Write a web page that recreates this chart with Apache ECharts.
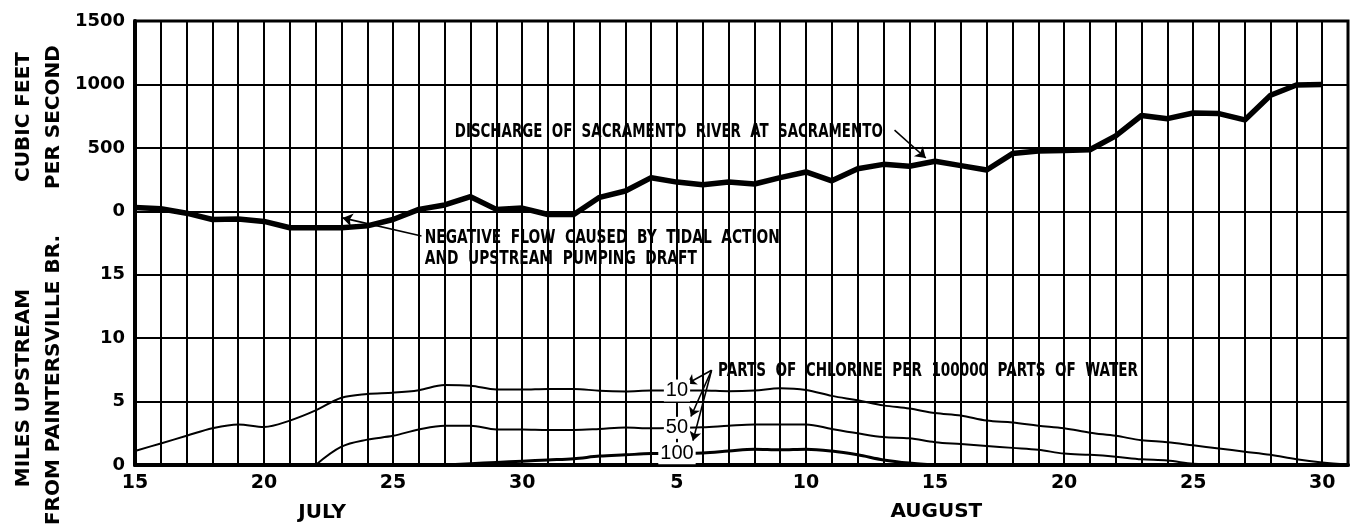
<!DOCTYPE html>
<html>
<head>
<meta charset="utf-8">
<script src="https://cdn.jsdelivr.net/npm/echarts@6/dist/echarts.min.js"></script>
<style>
  html, body { margin: 0; padding: 0; background: #fff; }
  #chart { width: 1356px; height: 529px; }
</style>
</head>
<body>
<div id="chart"></div>
<script>
// days counted from July 15 (0) to August 31 (47)
const tickDays = [0, 5, 10, 15, 21, 26, 31, 36, 41, 46]
const tickLabels = ['15', '20', '25', '30', '5', '10', '15', '20', '25', '30']
const monthNames = ['JULY', 'AUGUST']

// discharge, cubic feet per second (day 0 .. 46)
const discharge = [30, 20, -15, -65, -60, -80, -130, -130, -130, -115, -65, 15, 50,
  115, 15, 25, -25, -25, 110, 160, 265, 230, 210, 230, 215, 265, 310, 240, 335, 370,
  355, 395, 360, 325, 455, 475, 480, 485, 595, 755, 730, 775, 770, 720, 915, 995, 1000]

// miles upstream of the chlorine lines (day 0 .. 47)
const chlor10 = [1.1, 1.7, 2.3, 2.9, 3.2, 3.0, 3.5, 4.3, 5.3, 5.6, 5.7, 5.9, 6.3,
  6.25, 5.95, 5.95, 6.0, 6.0, 5.85, 5.8, 5.87, 5.87, 5.87, 5.82, 5.87, 6.05, 5.92, 5.45, 5.1, 4.7,
  4.45, 4.1, 3.9, 3.5, 3.35, 3.1, 2.9, 2.55, 2.3, 1.95, 1.8, 1.55, 1.3, 1.05, 0.8, 0.45, 0.2, 0.05]
const chlor50 = [null, null, null, null, null, null, null, 0, 1.45, 2.0, 2.3, 2.8, 3.1,
  3.1, 2.8, 2.8, 2.76, 2.76, 2.84, 2.95, 2.9, 2.93, 2.97, 3.1, 3.2, 3.2, 3.2, 2.84, 2.5, 2.2,
  2.1, 1.8, 1.65, 1.5, 1.35, 1.2, 0.9, 0.8, 0.65, 0.45, 0.35, 0.1, 0, null, null, null, null, null]
const chlor100 = [null, null, null, null, null, null, null, null, null, null, null, null, 0,
  0.1, 0.2, 0.3, 0.4, 0.5, 0.7, 0.8, 0.9, 0.92, 0.95, 1.1, 1.25, 1.2, 1.25, 1.1, 0.8, 0.4,
  0.15, 0, null, null, null, null, null, null, null, null, null, null, null, null, null, null, null, null]
const chlorNames = ['10', '50', '100']

const notes = {
  discharge: 'DISCHARGE  OF  SACRAMENTO  RIVER  AT  SACRAMENTO',
  negative1: 'NEGATIVE  FLOW  CAUSED  BY  TIDAL  ACTION',
  negative2: 'AND  UPSTREAM  PUMPING  DRAFT',
  chlorine: 'PARTS  OF  CHLORINE  PER  100000  PARTS  OF  WATER',
}

const labelDay = 21
const axisFont = "'DejaVu Sans', sans-serif"
const noteFont = "bold 19px 'DejaVu Sans', sans-serif"

const toPairs = arr => arr.map((v, i) => [i, v]).filter(p => p[1] !== null)

const chart = echarts.init(document.getElementById('chart'))

const numLabel = (name, arr) => ({
  symbol: 'rect',
  symbolSize: 0,
  silent: true,
  data: [{
    coord: [labelDay, arr[labelDay]],
    label: {
      show: true,
      position: 'inside',
      formatter: name,
      color: '#000',
      fontFamily: "'Liberation Sans', sans-serif",
      fontSize: 20,
      backgroundColor: '#fff',
      padding: [1, 2],
    },
  }],
})

const chlorLine = (name, arr, width, extra) => Object.assign({
  name: name,
  type: 'line',
  yAxisIndex: 1,
  data: toPairs(arr),
  symbol: 'none',
  smooth: 0.35,
  lineStyle: { color: '#000', width: width },
  markPoint: numLabel(name, arr),
}, extra || {})

const arrow = (from, to) => [{ coord: from }, { coord: to }]

chart.setOption({
  animation: false,
  backgroundColor: '#fff',
  grid: {
    left: 135,
    right: 8,
    top: 21,
    bottom: 64,
    show: true,
    borderColor: '#000',
    borderWidth: 3,
  },
  xAxis: {
    type: 'value',
    min: 0,
    max: 47,
    interval: 1,
    axisLine: { onZero: false, lineStyle: { color: '#000', width: 4 } },
    axisTick: { show: false },
    splitLine: { show: true, lineStyle: { color: '#000', width: 2 } },
    axisLabel: {
      margin: 9,
      color: '#000',
      fontFamily: axisFont,
      fontWeight: 'bold',
      fontSize: 19,
      formatter: v => {
        const k = tickDays.indexOf(v)
        return k < 0 ? '' : tickLabels[k]
      },
    },
  },
  yAxis: [
    {
      type: 'value',
      min: -2000,
      max: 1500,
      interval: 500,
      axisLine: { show: true, onZero: false, lineStyle: { color: '#000', width: 4 } },
      axisTick: { show: false },
      splitLine: { show: true, lineStyle: { color: '#000', width: 2 } },
      axisLabel: {
        margin: 10,
        color: '#000',
        fontFamily: axisFont,
        fontWeight: 'bold',
        fontSize: 18,
        formatter: v => (v >= 0 ? String(v) : ''),
      },
    },
    {
      type: 'value',
      min: 0,
      max: 35,
      interval: 5,
      position: 'left',
      axisLine: { show: false },
      axisTick: { show: false },
      splitLine: { show: false },
      axisLabel: {
        margin: 10,
        color: '#000',
        fontFamily: axisFont,
        fontWeight: 'bold',
        fontSize: 18,
        formatter: v => (v <= 15 ? String(v) : ''),
      },
    },
  ],
  series: [
    {
      name: 'discharge',
      type: 'line',
      yAxisIndex: 0,
      data: toPairs(discharge),
      symbol: 'none',
      lineStyle: { color: '#000', width: 5.5, join: 'round' },
      markLine: {
        silent: true,
        symbol: ['none', 'arrow'],
        symbolSize: 10,
        label: { show: false },
        lineStyle: { color: '#000', width: 1.6, type: 'solid' },
        data: [
          arrow([29.43, 640], [30.64, 420]),
          arrow([11.1, -195], [8.04, -52]),
        ],
      },
    },
    chlorLine(chlorNames[0], chlor10, 2),
    chlorLine(chlorNames[1], chlor50, 2),
    chlorLine(chlorNames[2], chlor100, 3, {
      markLine: {
        silent: true,
        symbol: ['none', 'arrow'],
        symbolSize: 9,
        label: { show: false },
        lineStyle: { color: '#000', width: 1.6, type: 'solid' },
        data: [
          arrow([22.34, 7.47], [21.39, 6.41]),
          arrow([22.34, 7.47], [21.54, 3.82]),
          arrow([22.34, 7.47], [21.62, 1.92]),
        ],
      },
    }),
  ],
})

// notes: anchored in data space, squeezed to the lettering width of the drawing
const ctx = document.createElement('canvas').getContext('2d')
ctx.font = noteFont
const px = (day, val, axis) => chart.convertToPixel({ xAxisIndex: 0, yAxisIndex: axis }, [day, val])
const note = (text, p, width, sx) => {
  const s = sx || width / ctx.measureText(text).width
  return {
    type: 'text', x: p[0], y: p[1], scaleX: s, z: 100,
    style: { text: text, font: noteFont, fill: '#000', align: 'left', verticalAlign: 'middle' },
  }
}
const negScale = 355 / ctx.measureText(notes.negative1).width

const julyX = chart.convertToPixel({ xAxisIndex: 0 }, 7.25)
const augX = chart.convertToPixel({ xAxisIndex: 0 }, 31.05)
const titleStyle = {
  fill: '#000',
  font: "bold 20px 'DejaVu Sans', sans-serif",
  align: 'center',
  verticalAlign: 'middle',
}
chart.setOption({
  graphic: [
    note(notes.discharge, px(12.39, 626, 0), 428),
    note(notes.negative1, px(11.23, -212, 0), 355),
    note(notes.negative2, px(11.23, -375, 0), 0, negScale),
    note(notes.chlorine, px(22.59, 7.39, 1), 420),
    { type: 'text', x: 24, y: 117, rotation: Math.PI / 2, style: Object.assign({ text: 'CUBIC FEET' }, titleStyle) },
    { type: 'text', x: 54, y: 117, rotation: Math.PI / 2, style: Object.assign({ text: 'PER SECOND' }, titleStyle) },
    { type: 'text', x: 24, y: 388, rotation: Math.PI / 2, style: Object.assign({ text: 'MILES UPSTREAM' }, titleStyle) },
    { type: 'text', x: 54, y: 380, rotation: Math.PI / 2, style: Object.assign({ text: 'FROM PAINTERSVILLE BR.' }, titleStyle) },
    { type: 'text', x: julyX, y: 513, style: Object.assign({ text: monthNames[0] }, titleStyle) },
    { type: 'text', x: augX, y: 512, style: Object.assign({ text: monthNames[1] }, titleStyle) },
  ],
})
</script>
</body>
</html>
